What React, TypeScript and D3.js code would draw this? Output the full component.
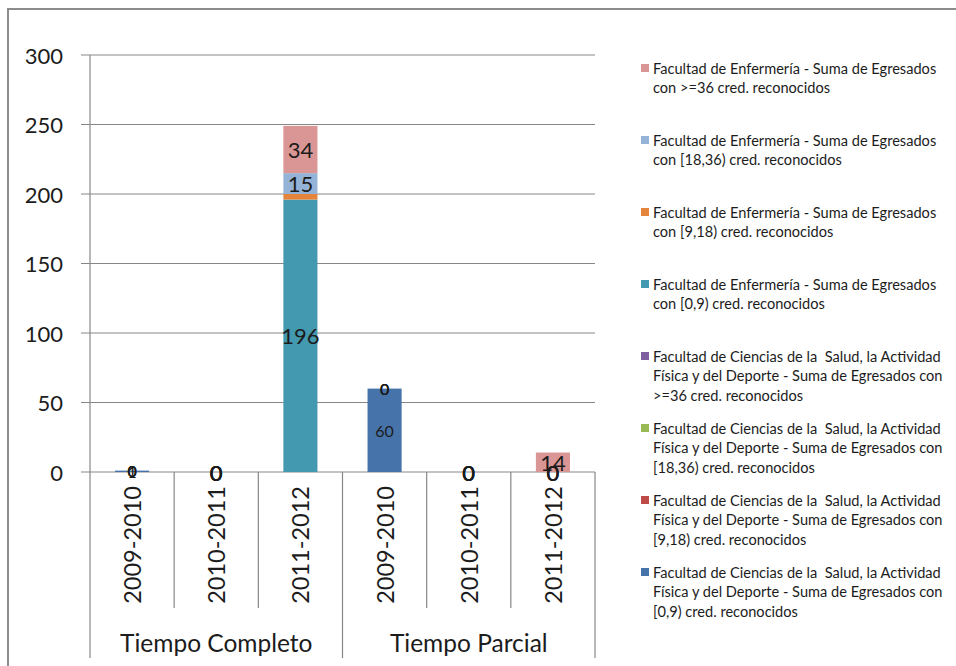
import React from "react";
import * as d3 from "d3";

const groups = ["Tiempo Completo", "Tiempo Parcial"];
const years = ["2009-2010", "2010-2011", "2011-2012"];
const categories = groups.flatMap((g) => years.map((y) => `${g}|${y}`));

// stacking order bottom -> top; null = no data (no label)
const seriesNames = [
  "Facultad de Ciencias de la  Salud, la Actividad Física y del Deporte - Suma de Egresados con [0,9) cred. reconocidos",
  "Facultad de Ciencias de la  Salud, la Actividad Física y del Deporte - Suma de Egresados con [9,18) cred. reconocidos",
  "Facultad de Ciencias de la  Salud, la Actividad Física y del Deporte - Suma de Egresados con [18,36) cred. reconocidos",
  "Facultad de Ciencias de la  Salud, la Actividad Física y del Deporte - Suma de Egresados con >=36 cred. reconocidos",
  "Facultad de Enfermería - Suma de Egresados con [0,9) cred. reconocidos",
  "Facultad de Enfermería - Suma de Egresados con [9,18) cred. reconocidos",
  "Facultad de Enfermería - Suma de Egresados con [18,36) cred. reconocidos",
  "Facultad de Enfermería - Suma de Egresados con >=36 cred. reconocidos",
];
const cieA = [1, null, null, 60, null, null];
const cieB = [0, null, null, 0, null, null];
const cieC = [0, null, null, 0, null, null];
const cieD = [0, null, null, 0, null, null];
const enfA = [null, 0, 196, null, 0, 0];
const enfB = [null, 0, 4, null, 0, 0];
const enfC = [null, 0, 15, null, 0, 0];
const enfD = [null, 0, 34, null, 0, 14];
const seriesValues = [cieA, cieB, cieC, cieD, enfA, enfB, enfC, enfD];
const seriesColors = ["#4674AA", "#BE4B48", "#98B954", "#7E5F9F", "#4399AF", "#E4853B", "#95B3D7", "#D99694"];
const seriesIsEnf = [false, false, false, false, true, true, true, true];
const hiddenLabels = ["5|2"];

const yTicks = [0, 50, 100, 150, 200, 250, 300];

const legendLines = [
  ["Facultad de Enfermería - Suma de Egresados", "con >=36 cred. reconocidos"],
  ["Facultad de Enfermería - Suma de Egresados", "con [18,36) cred. reconocidos"],
  ["Facultad de Enfermería - Suma de Egresados", "con [9,18) cred. reconocidos"],
  ["Facultad de Enfermería - Suma de Egresados", "con [0,9) cred. reconocidos"],
  ["Facultad de Ciencias de la  Salud, la Actividad", "Física y del Deporte - Suma de Egresados con", ">=36 cred. reconocidos"],
  ["Facultad de Ciencias de la  Salud, la Actividad", "Física y del Deporte - Suma de Egresados con", "[18,36) cred. reconocidos"],
  ["Facultad de Ciencias de la  Salud, la Actividad", "Física y del Deporte - Suma de Egresados con", "[9,18) cred. reconocidos"],
  ["Facultad de Ciencias de la  Salud, la Actividad", "Física y del Deporte - Suma de Egresados con", "[0,9) cred. reconocidos"],
];
const legendSeriesIndex = [7, 6, 5, 4, 3, 2, 1, 0];

const W = 956;
const H = 666;
const FONT = "Lato, 'Open Sans', sans-serif";
const TEXT = "#1c1c1c";
const AXIS = "#878787";

export default function App() {
  const left = 90, right = 595, top = 55, bottom = 472;
  const x = d3.scaleBand<string>().domain(categories).range([left, right]).padding(0);
  const y = d3.scaleLinear().domain([0, 300]).range([bottom, top]);
  const bw = x.bandwidth() * 0.405;

  const table = categories.map((c, i) => {
    const row: any = { cat: c };
    seriesValues.forEach((s, k) => (row[k] = s[i] ?? 0));
    return row;
  });
  const stack = d3.stack<any>().keys(seriesValues.map((_, k) => String(k)))(table);

  const bounds = categories.map((c) => x(c) as number).concat([right]);

  return (
    <div style={{ position: "fixed", left: 0, top: 0 }}>
      <svg width={W} height={H} style={{ display: "block", background: "#fff" }} fontFamily={FONT}>
        <rect x={8} y={9} width={1000} height={700} fill="#fff" stroke="#8c8c8c" strokeWidth={2} />
        {/* gridlines */}
        {yTicks.map((t) => (
          <line key={t} x1={left - 9} x2={right} y1={y(t)} y2={y(t)} stroke={AXIS} strokeWidth={1.2} />
        ))}
        <line x1={left} x2={left} y1={top} y2={bottom} stroke={AXIS} strokeWidth={1.2} />
        {yTicks.map((t) => (
          <text key={t} x={63} y={y(t)} textAnchor="end" dominantBaseline="central" fontSize={22} fill={TEXT}>
            {t}
          </text>
        ))}
        {/* category separators */}
        {bounds.map((bx, i) => {
          const isGroup = i % years.length === 0;
          return (
            <line key={i} x1={bx} x2={bx} y1={bottom} y2={isGroup ? 658 : 608} stroke={AXIS} strokeWidth={1.2} />
          );
        })}
        {/* bars */}
        {stack.map((layer, k) =>
          layer.map((d, i) => {
            const v = seriesValues[k][i];
            if (v === null || v === 0) return null;
            const cx = (x(categories[i]) as number) + x.bandwidth() / 2;
            return (
              <rect
                key={`${k}-${i}`}
                x={cx - bw / 2}
                y={y(d[1])}
                width={bw}
                height={y(d[0]) - y(d[1])}
                fill={seriesColors[k]}
              />
            );
          })
        )}
        {/* labels */}
        {stack.map((layer, k) =>
          layer.map((d, i) => {
            const v = seriesValues[k][i];
            if (v === null || hiddenLabels.includes(`${k}|${i}`)) return null;
            const cx = (x(categories[i]) as number) + x.bandwidth() / 2;
            const cy = (y(d[0]) + y(d[1])) / 2;
            return (
              <text
                key={`l${k}-${i}`}
                x={cx}
                y={cy}
                textAnchor="middle"
                dominantBaseline="central"
                fontSize={seriesIsEnf[k] ? 22 : 16}
                fill={TEXT}
              >
                {v}
              </text>
            );
          })
        )}
        {/* year labels */}
        {categories.map((c, i) => {
          const cx = (x(c) as number) + x.bandwidth() / 2;
          return (
            <text
              key={c}
              transform={`translate(${cx},486) rotate(-90)`}
              textAnchor="end"
              dominantBaseline="central"
              fontSize={23.5}
              fill={TEXT}
            >
              {years[i % years.length]}
            </text>
          );
        })}
        {groups.map((g, gi) => {
          const x0 = x(categories[gi * years.length]) as number;
          const x1 = bounds[(gi + 1) * years.length];
          return (
            <text key={g} x={(x0 + x1) / 2} y={642} textAnchor="middle" dominantBaseline="central" fontSize={24.5} fill={TEXT}>
              {g}
            </text>
          );
        })}
        {/* legend */}
        {legendLines.map((lines, li) => {
          const y0 = 68 + li * 72;
          const k = legendSeriesIndex[li];
          return (
            <g key={li}>
              <rect x={641} y={y0 - 4} width={8} height={8} fill={seriesColors[k]} />
              {lines.map((t, j) => (
                <text key={j} x={653} y={y0 + j * 19.6} dominantBaseline="central" fontSize={14.6} fill={TEXT} style={{ whiteSpace: "pre" }}>
                  {t}
                </text>
              ))}
            </g>
          );
        })}
      </svg>
    </div>
  );
}
